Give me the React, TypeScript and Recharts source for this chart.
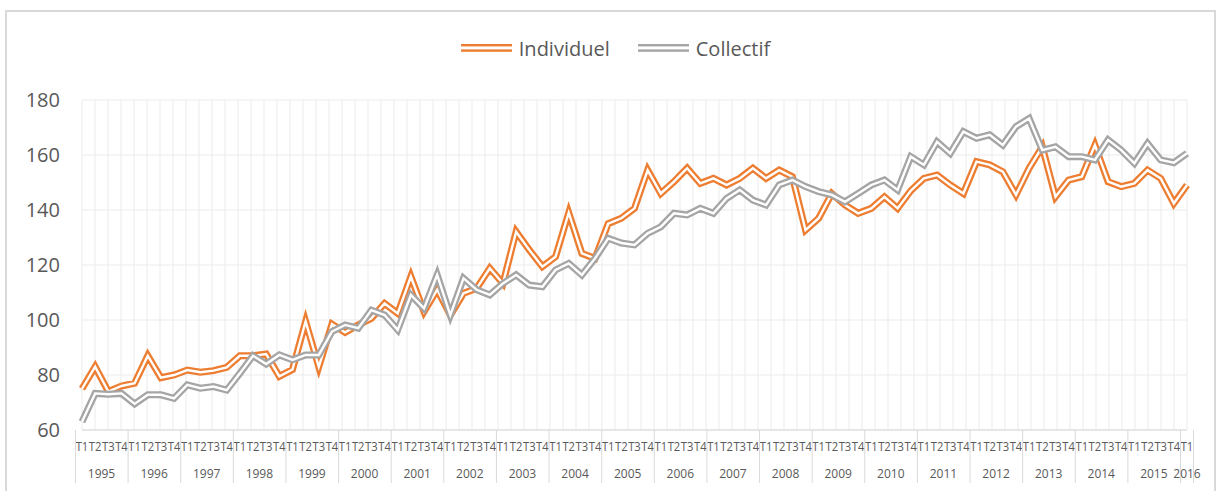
import React from 'react';
import { LineChart, Line, XAxis, YAxis, CartesianGrid, Legend } from 'recharts';

const years = [
  '1995', '1996', '1997', '1998', '1999', '2000', '2001', '2002', '2003', '2004', '2005',
  '2006', '2007', '2008', '2009', '2010', '2011', '2012', '2013', '2014', '2015', '2016',
];
const quarters = ['T1', 'T2', 'T3', 'T4'];

// values, one per quarter from 1995 T1 to 2016 T1
const individuel = [
  75, 83, 74, 76, 77, 87, 79, 80,
  81.8, 81, 81.6, 82.8, 87, 87, 87.6, 79.5,
  82, 99.5, 83, 98.5, 95.5, 98.2, 100.6, 106,
  102.4, 115.8, 103, 111, 101.8, 109.7, 111.5, 118.8,
  113.3, 132.1, 125.5, 119.4, 123, 139, 124.2, 122.4,
  135, 137, 140.6, 154.5, 146, 150.3, 155.2, 149.7,
  151.5, 149.1, 151.5, 155.2, 151.5, 154.5, 152.1, 132.7,
  137, 146, 141.8, 138.8, 140.6, 144.8, 140.6, 147,
  151.5, 152.7, 149.1, 146, 157.6, 156.4, 153.9, 145.5,
  155.2, 163, 144.8, 150.9, 152.1, 163.6, 150.3, 148.5,
  149.7, 154.5, 151.5, 142.4, 149.1,
];
const collectif = [
  63, 73.3, 73, 73.3, 69.5, 72.8, 72.8, 71.5,
  76.4, 75.2, 75.8, 74.5, 80.6, 87, 84, 87.3,
  85.5, 87.3, 87.3, 95.8, 98.2, 97, 103.6, 101.8,
  96.4, 109.1, 104.2, 116.4, 101.8, 115.2, 111, 109.1,
  113.3, 116.4, 112.7, 112.1, 118.2, 120.6, 116.4, 122.4,
  129.7, 128, 127.3, 131.5, 133.9, 138.8, 138.2, 140.6,
  138.8, 144.2, 147.3, 143.6, 141.8, 149.1, 150.9, 148.5,
  146.7, 145.5, 143, 146, 149.1, 150.9, 147.3, 159.4,
  156.4, 164.8, 160.6, 168.5, 166.1, 167.3, 163.6, 170.3,
  173.3, 161.8, 163, 159.4, 159.4, 158.2, 165.5, 161.8,
  157, 164.2, 158.2, 157.2, 160.6,
];
const yTicks = [60, 80, 100, 120, 140, 160, 180];

const series = [
  { key: 'individuel', name: 'Individuel', color: '#ED7D31' },
  { key: 'collectif', name: 'Collectif', color: '#A5A5A5' },
];

const categories = years
  .flatMap((year) => quarters.map((q) => ({ year, q })))
  .slice(0, individuel.length);

const data = categories.map((c, i) => ({
  cat: `${c.year} ${c.q}`,
  year: c.year,
  q: c.q,
  individuel: individuel[i],
  collectif: collectif[i],
}));

const TEXT = '#595959';
const FONT = '"Open Sans", sans-serif';

// two-level axis: quarter under each point, year centred under its quarters
const QuarterTick = (props: any) => {
  const { x, y, index, payload } = props;
  const half = payload?.offset || 6.5;
  const d = data[index];
  if (!d) return null;
  const inYear = data.filter((p) => p.year === d.year).length;
  const isLast = index === data.length - 1;
  return (
    <g>
      <text
        x={x}
        y={y + 21}
        textAnchor="middle"
        fontSize={13}
        fill={TEXT}
        fontFamily={FONT}
        textLength={12.6}
        lengthAdjust="spacingAndGlyphs"
      >
        {d.q}
      </text>
      {d.q === 'T1' && (
        <>
          <line x1={x - half} y1={y} x2={x - half} y2={y + 53} stroke="#d9d9d9" strokeWidth={1} />
          <text x={x - half + inYear * half} y={y + 48} textAnchor="middle" fontSize={12} fill={TEXT} fontFamily={FONT}>
            {d.year}
          </text>
        </>
      )}
      {isLast && <line x1={x + half} y1={y} x2={x + half} y2={y + 53} stroke="#d9d9d9" strokeWidth={1} />}
    </g>
  );
};

const LegendContent = () => (
  <div style={{ height: 70, display: 'flex', justifyContent: 'center', alignItems: 'flex-start', paddingLeft: 15, gap: 28 }}>
    {series.map((s) => (
      <div key={s.key} style={{ display: 'flex', alignItems: 'center', height: 36 }}>
        <svg width={51} height={8}>
          <rect x={0} y={0} width={51} height={2.4} fill={s.color} />
          <rect x={0} y={5.4} width={51} height={2.4} fill={s.color} />
        </svg>
        <span style={{ marginLeft: 7, fontSize: 20, color: TEXT, fontFamily: FONT }}>{s.name}</span>
      </div>
    ))}
  </div>
);

const gridX = ({ offset }: any) => {
  const left = offset?.left ?? 82;
  const w = offset?.width ?? 1105;
  const n = data.length;
  return Array.from({ length: n + 1 }, (_, k) => left + (w * k) / n);
};

export default function App() {
  return (
    <div style={{ position: 'absolute', left: 0, top: 0, width: 1216, height: 491, background: '#fff', overflow: 'hidden' }}>
      <div
        style={{
          position: 'absolute',
          left: 5,
          top: 10,
          width: 1211,
          height: 481,
          boxSizing: 'border-box',
          border: '2px solid #d9d9d9',
          borderBottom: 'none',
        }}
      />
      <LineChart width={1216} height={491} data={data} margin={{ top: 30, right: 29, bottom: 0, left: 0 }}>
        <CartesianGrid stroke="#ebebeb" strokeWidth={1} verticalCoordinatesGenerator={gridX} />
        <XAxis
          dataKey="cat"
          interval={0}
          height={61}
          tickSize={0}
          tickMargin={0}
          tickLine={false}
          axisLine={{ stroke: '#d9d9d9' }}
          tick={<QuarterTick />}
        />
        <YAxis
          domain={[60, 180]}
          ticks={yTicks}
          interval={0}
          width={82}
          axisLine={false}
          tickLine={false}
          tickSize={0}
          tickMargin={22}
          tick={{ fontSize: 20, fill: TEXT, fontFamily: FONT }}
        />
        <Legend verticalAlign="top" content={<LegendContent />} wrapperStyle={{ left: 0, width: 1216 }} />
        {series.map((s) => [
          <Line
            key={`${s.key}-outer`}
            dataKey={s.key}
            name={s.name}
            stroke={s.color}
            strokeWidth={7}
            dot={false}
            activeDot={false}
            isAnimationActive={false}
          />,
          <Line
            key={`${s.key}-inner`}
            dataKey={s.key}
            stroke="#ffffff"
            strokeWidth={2.4}
            dot={false}
            activeDot={false}
            legendType="none"
            isAnimationActive={false}
          />,
        ])}
      </LineChart>
    </div>
  );
}
